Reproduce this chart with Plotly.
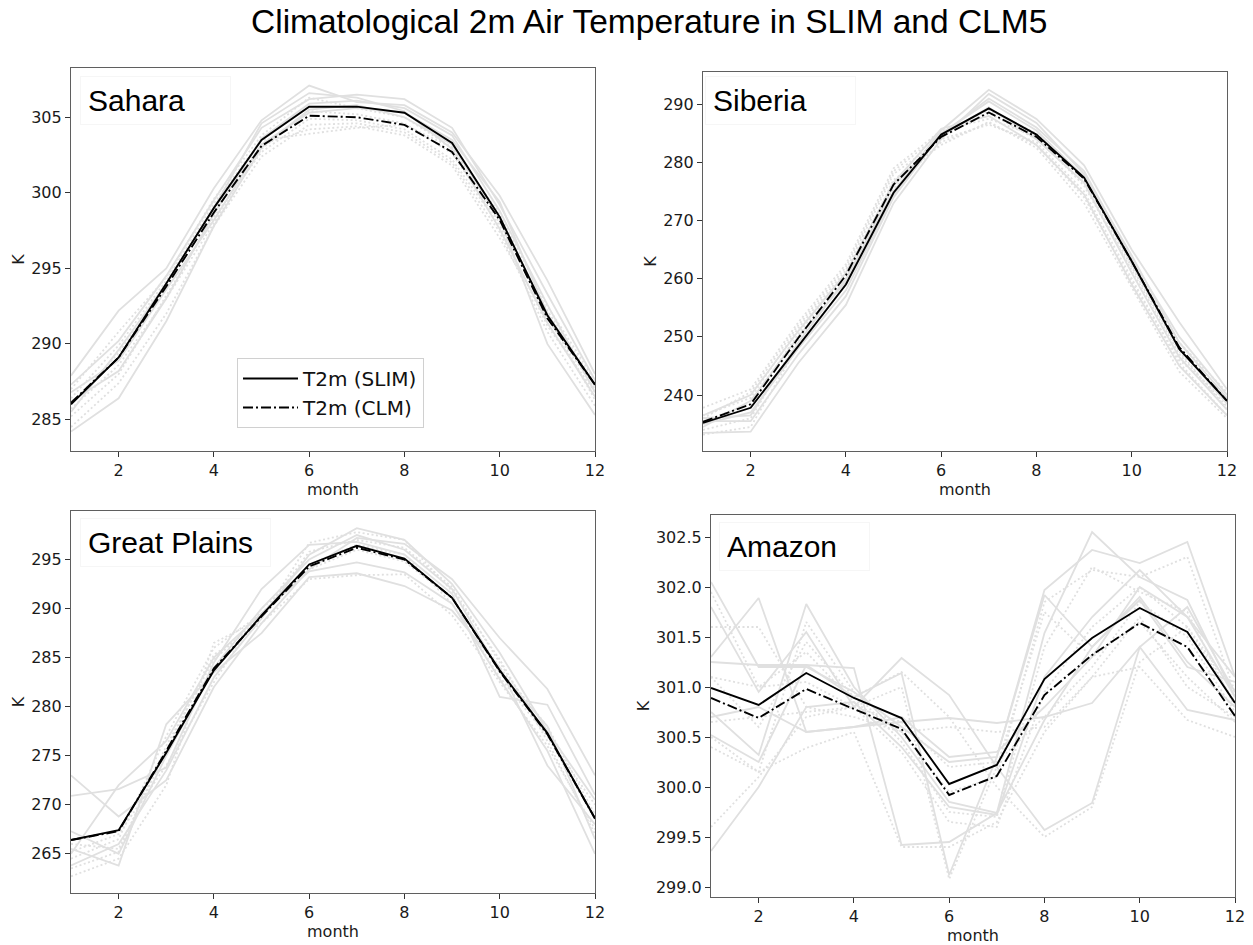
import plotly.graph_objects as go

MONTHS = list(range(1, 13))
REGIONS = ["Sahara", "Siberia", "Great Plains", "Amazon"]
LEGEND_NAMES = ["T2m (SLIM)", "T2m (CLM)"]
TITLE = "Climatological 2m Air Temperature in SLIM and CLM5"

# ---------------- Sahara ----------------
SAHARA_SLIM = [286.0, 289.1, 294.0, 299.0, 303.5, 305.7, 305.7, 305.3, 303.3, 298.4, 291.9, 287.3]
SAHARA_CLM = [286.1, 289.1, 293.8, 298.7, 303.1, 305.1, 305.0, 304.5, 302.7, 298.2, 291.7, 287.3]
SAHARA_SLIM_MEMBERS = [
    [287.9, 292.2, 295.0, 300.3, 304.8, 307.1, 306.0, 305.8, 304.0, 299.8, 294.2, 288.0],
    [287.3, 290.2, 294.5, 299.5, 304.3, 306.2, 306.5, 306.2, 304.3, 299.2, 293.3, 287.6],
    [286.2, 288.2, 293.0, 298.6, 303.6, 305.9, 306.1, 305.6, 303.8, 298.8, 292.6, 286.8],
    [284.2, 286.4, 291.5, 297.8, 303.0, 305.5, 305.8, 305.0, 303.2, 298.3, 290.0, 285.3],
    [285.5, 289.6, 294.0, 299.0, 304.6, 306.6, 306.3, 305.4, 302.9, 297.6, 291.4, 286.5],
    [286.8, 288.9, 293.6, 298.2, 303.2, 305.3, 305.6, 305.3, 303.5, 299.4, 292.0, 287.2],
]
SAHARA_CLM_MEMBERS = [
    [287.0, 290.8, 294.4, 299.6, 303.8, 306.3, 305.6, 305.0, 303.0, 298.6, 292.5, 287.6],
    [285.2, 288.0, 293.2, 298.4, 302.7, 304.9, 304.8, 304.2, 302.2, 297.8, 291.2, 286.8],
    [284.5, 287.4, 292.0, 297.8, 302.4, 304.5, 304.6, 304.0, 302.0, 297.4, 290.8, 285.9],
    [286.0, 289.4, 293.9, 298.9, 303.2, 304.2, 304.4, 303.8, 301.8, 297.0, 291.7, 287.0],
    [285.7, 288.6, 293.0, 298.0, 302.9, 305.4, 305.2, 304.6, 302.6, 298.0, 292.2, 287.4],
    [286.4, 289.9, 294.2, 299.3, 303.5, 303.9, 304.3, 304.5, 303.0, 298.3, 291.9, 286.3],
]

# ---------------- Siberia ----------------
SIBERIA_SLIM = [235.2, 237.8, 248.4, 259.0, 274.8, 284.8, 289.3, 284.8, 277.4, 263.0, 247.9, 239.0]
SIBERIA_CLM = [235.4, 238.4, 249.8, 260.6, 276.2, 284.4, 288.6, 284.4, 277.2, 263.0, 248.2, 239.0]
SIBERIA_SLIM_MEMBERS = [
    [236.0, 236.5, 249.0, 260.0, 275.0, 285.5, 292.5, 287.5, 279.5, 265.0, 252.5, 241.0],
    [233.5, 233.7, 245.5, 255.5, 273.0, 284.0, 291.8, 286.8, 278.0, 264.0, 249.0, 239.5],
    [235.0, 237.0, 248.0, 258.0, 274.5, 285.0, 290.5, 285.5, 277.5, 262.5, 248.0, 238.5],
    [234.5, 239.0, 250.0, 259.5, 276.0, 284.5, 289.5, 284.0, 276.5, 261.0, 246.5, 237.5],
    [236.5, 240.0, 251.0, 261.0, 276.5, 285.8, 288.0, 283.0, 274.5, 259.0, 245.0, 236.5],
    [235.5, 235.5, 247.0, 257.0, 274.0, 284.8, 291.0, 286.0, 278.5, 263.5, 250.0, 240.0],
]
SIBERIA_CLM_MEMBERS = [
    [237.8, 241.0, 252.5, 262.5, 279.0, 285.5, 287.5, 284.5, 276.0, 261.5, 247.0, 238.0],
    [236.5, 239.5, 251.5, 261.5, 278.0, 284.0, 286.5, 283.5, 275.0, 260.0, 245.5, 236.5],
    [234.0, 236.0, 249.5, 260.0, 277.0, 283.0, 287.0, 282.5, 273.0, 258.5, 244.0, 236.0],
    [235.5, 238.5, 250.5, 261.0, 276.5, 284.5, 288.5, 284.0, 276.5, 262.0, 247.5, 237.5],
    [233.2, 234.5, 248.5, 259.0, 275.5, 283.5, 286.8, 283.0, 274.0, 259.5, 246.0, 239.0],
    [236.0, 240.5, 252.0, 262.0, 278.5, 285.0, 289.0, 285.0, 277.0, 263.0, 249.0, 240.5],
]

# ---------------- Great Plains ----------------
PLAINS_SLIM = [266.4, 267.4, 275.3, 283.7, 289.3, 294.5, 296.4, 295.1, 291.1, 283.7, 277.3, 268.6]
PLAINS_CLM = [266.4, 267.3, 275.5, 283.9, 289.2, 294.3, 296.2, 295.0, 291.1, 283.6, 277.2, 268.6]
PLAINS_SLIM_MEMBERS = [
    [273.0, 268.8, 272.5, 282.0, 288.5, 294.0, 297.2, 296.6, 293.0, 287.0, 281.8, 273.0],
    [270.9, 271.6, 273.8, 284.5, 292.0, 296.5, 296.8, 295.5, 291.5, 281.0, 280.2, 271.0],
    [265.0, 272.0, 276.5, 285.0, 289.5, 293.8, 294.7, 293.7, 290.5, 282.8, 275.5, 265.0],
    [263.8, 266.0, 273.5, 283.0, 289.0, 295.5, 298.2, 297.0, 292.5, 285.5, 277.5, 270.5],
    [265.5, 263.8, 278.2, 283.5, 287.5, 293.2, 293.6, 292.3, 289.8, 284.0, 274.0, 268.0],
    [267.3, 265.0, 275.0, 284.0, 290.0, 295.0, 297.5, 296.0, 292.0, 283.5, 278.0, 266.5],
]
PLAINS_CLM_MEMBERS = [
    [262.7, 264.5, 272.0, 286.5, 289.0, 296.7, 297.8, 297.0, 291.8, 284.8, 276.5, 267.0],
    [264.5, 266.5, 277.0, 286.0, 289.5, 294.5, 296.5, 295.5, 290.5, 283.0, 277.0, 268.5],
    [266.0, 265.5, 275.5, 285.3, 288.5, 293.0, 293.4, 293.5, 289.3, 282.5, 276.0, 267.5],
    [265.2, 267.0, 274.0, 282.5, 290.0, 294.0, 296.0, 294.8, 291.0, 284.0, 278.0, 269.0],
    [263.5, 265.2, 276.0, 284.8, 289.2, 295.8, 297.0, 296.2, 292.2, 284.5, 277.0, 270.0],
]

# ---------------- Amazon ----------------
AMAZON_SLIM = [300.99, 300.82, 301.14, 300.89, 300.69, 300.03, 300.22, 301.08, 301.49, 301.79, 301.55, 300.84]
AMAZON_CLM = [300.89, 300.69, 300.98, 300.78, 300.58, 299.92, 300.11, 300.92, 301.32, 301.64, 301.40, 300.71]
AMAZON_SLIM_MEMBERS = [
    [302.05, 301.20, 301.20, 300.95, 300.60, 300.25, 300.30, 301.97, 302.37, 302.24, 302.45, 301.10],
    [301.30, 301.89, 300.55, 300.60, 300.65, 300.69, 300.64, 300.70, 300.84, 301.40, 300.77, 300.67],
    [299.36, 300.00, 300.80, 300.85, 300.40, 299.80, 299.72, 301.10, 301.70, 302.17, 301.70, 301.10],
    [300.75, 300.32, 301.83, 301.00, 300.50, 299.85, 299.74, 301.54, 302.55, 302.10, 301.87, 300.90],
    [301.80, 300.95, 301.55, 300.80, 301.29, 300.92, 300.20, 299.57, 299.84, 301.40, 301.80, 300.95],
    [300.52, 300.25, 301.22, 301.19, 299.42, 299.45, 299.74, 300.67, 301.40, 301.87, 301.20, 301.05],
    [301.25, 301.22, 301.22, 300.90, 301.14, 299.12, 300.30, 301.92, 301.40, 301.90, 301.25, 300.80],
    [300.70, 300.80, 300.55, 300.60, 300.70, 300.30, 300.35, 300.80, 301.30, 302.00, 301.70, 300.90],
]
AMAZON_CLM_MEMBERS = [
    [301.95, 301.00, 301.35, 300.85, 300.55, 299.95, 300.10, 301.85, 302.17, 302.10, 302.30, 300.95],
    [301.60, 301.60, 300.80, 300.70, 300.55, 300.60, 300.55, 300.60, 301.10, 301.20, 300.67, 300.50],
    [299.60, 300.10, 300.70, 300.80, 300.35, 299.65, 299.60, 300.95, 301.60, 302.00, 301.60, 300.95],
    [300.50, 300.15, 301.65, 300.95, 300.45, 299.75, 299.70, 301.40, 302.20, 301.95, 301.75, 300.80],
    [301.10, 300.60, 301.45, 300.90, 301.15, 300.70, 300.00, 299.50, 299.80, 301.25, 301.60, 300.85],
    [300.40, 300.15, 300.39, 300.55, 299.40, 299.40, 299.65, 300.55, 301.10, 301.70, 301.00, 300.70],
    [301.10, 301.00, 301.05, 300.80, 301.00, 299.08, 300.20, 301.75, 301.30, 301.65, 301.10, 300.65],
    [300.65, 300.70, 300.75, 300.80, 300.65, 300.20, 300.25, 300.70, 301.20, 301.85, 301.50, 300.75],
]

PANELS = [
    (SAHARA_SLIM, SAHARA_CLM, SAHARA_SLIM_MEMBERS, SAHARA_CLM_MEMBERS),
    (SIBERIA_SLIM, SIBERIA_CLM, SIBERIA_SLIM_MEMBERS, SIBERIA_CLM_MEMBERS),
    (PLAINS_SLIM, PLAINS_CLM, PLAINS_SLIM_MEMBERS, PLAINS_CLM_MEMBERS),
    (AMAZON_SLIM, AMAZON_CLM, AMAZON_SLIM_MEMBERS, AMAZON_CLM_MEMBERS),
]

# ---------------- layout geometry (pixels) ----------------
W, H = 1253, 945
WX = 1243  # effective horizontal extent used for paper-coordinate conversion
BOXES = [  # left, right, top, bottom
    (71, 595, 68, 451),
    (703, 1227, 72, 451),
    (71, 595, 511, 893),
    (711, 1235, 515, 897),
]
YRANGES = [(282.91, 308.26), (230.37, 295.56), (261.0, 299.95), (298.9, 302.72)]
YDTICK = [5, 10, 5, 0.5]
YFMT = ["d", "d", "d", ".1f"]
LABEL_POS = [(80, 100), (705, 100), (80, 542), (719, 546)]
LABEL_W = [135, 135, 175, 135]

GRAY = "#e0e0e0"
TXT = "#1a1a1a"
TICKFONT = dict(family="DejaVu Sans", size=16, color=TXT)
FRAME = "#5f5f5f"

fig = go.Figure()

for i, (slim, clm, slim_m, clm_m) in enumerate(PANELS):
    ax = "" if i == 0 else str(i + 1)
    xa, ya = "x" + ax, "y" + ax
    for m in slim_m:
        fig.add_trace(go.Scatter(x=MONTHS, y=m, mode="lines", xaxis=xa, yaxis=ya,
                                 line=dict(color=GRAY, width=1.8), showlegend=False,
                                 hoverinfo="skip"))
    for m in clm_m:
        fig.add_trace(go.Scatter(x=MONTHS, y=m, mode="lines", xaxis=xa, yaxis=ya,
                                 line=dict(color=GRAY, width=1.8, dash="2px,2.5px"),
                                 showlegend=False, hoverinfo="skip"))
    fig.add_trace(go.Scatter(x=MONTHS, y=slim, mode="lines", xaxis=xa, yaxis=ya,
                             name=LEGEND_NAMES[0], line=dict(color="black", width=1.9),
                             showlegend=(i == 0)))
    fig.add_trace(go.Scatter(x=MONTHS, y=clm, mode="lines", xaxis=xa, yaxis=ya,
                             name=LEGEND_NAMES[1],
                             line=dict(color="black", width=1.9, dash="10px,3px,2px,3px"),
                             showlegend=(i == 0)))

layout = {}
annotations = []
for i in range(4):
    l, r, t, b = BOXES[i]
    ax = "" if i == 0 else str(i + 1)
    layout["xaxis" + ax] = dict(
        domain=[l / WX, r / WX], range=[1, 12], anchor="y" + ax,
        tickmode="linear", tick0=2, dtick=2,
        showline=True, linecolor=FRAME, linewidth=1.2, mirror=True,
        ticks="outside", ticklen=5, tickcolor="#333333", showgrid=False, zeroline=False,
        tickfont=TICKFONT,
        title=dict(text="month", font=dict(family="DejaVu Sans", size=16, color=TXT),
                   standoff=2),
    )
    layout["yaxis" + ax] = dict(
        domain=[1 - b / H, 1 - t / H], range=list(YRANGES[i]), anchor="x" + ax,
        tickmode="linear", dtick=YDTICK[i], tickformat=YFMT[i],
        showline=True, linecolor=FRAME, linewidth=1.2, mirror=True,
        ticks="outside", ticklen=5, tickcolor="#333333", showgrid=False, zeroline=False,
        tickfont=TICKFONT,
        title=dict(text="K", font=dict(family="DejaVu Sans", size=16, color=TXT),
                   standoff=2),
    )
    lx, ly = LABEL_POS[i]
    annotations.append(dict(
        text=REGIONS[i], xref="paper", yref="paper", x=lx / WX, y=1 - ly / H,
        xanchor="left", yanchor="middle", showarrow=False, align="left",
        font=dict(family="Liberation Sans", size=30, color="black"),
        bordercolor="#f6f6f6", borderwidth=1, borderpad=7, width=LABEL_W[i],
    ))

annotations.append(dict(
    text=TITLE, xref="paper", yref="paper", x=648.5 / WX, y=1 - 22 / H,
    xanchor="center", yanchor="middle", showarrow=False,
    font=dict(family="Liberation Sans", size=33.5, color="black"),
))

fig.update_layout(
    width=W, height=H, autosize=False,
    margin=dict(l=0, r=0, t=0, b=0),
    paper_bgcolor="white", plot_bgcolor="white",
    annotations=annotations,
    legend=dict(x=237 / WX, y=1 - 358 / H, xanchor="left", yanchor="top",
                bgcolor="white", bordercolor="#d0d0d0", borderwidth=1,
                font=dict(family="DejaVu Sans", size=20, color="#111111"),
                itemwidth=55, tracegroupgap=0),
    **layout,
)

fig.write_html("out.html")
